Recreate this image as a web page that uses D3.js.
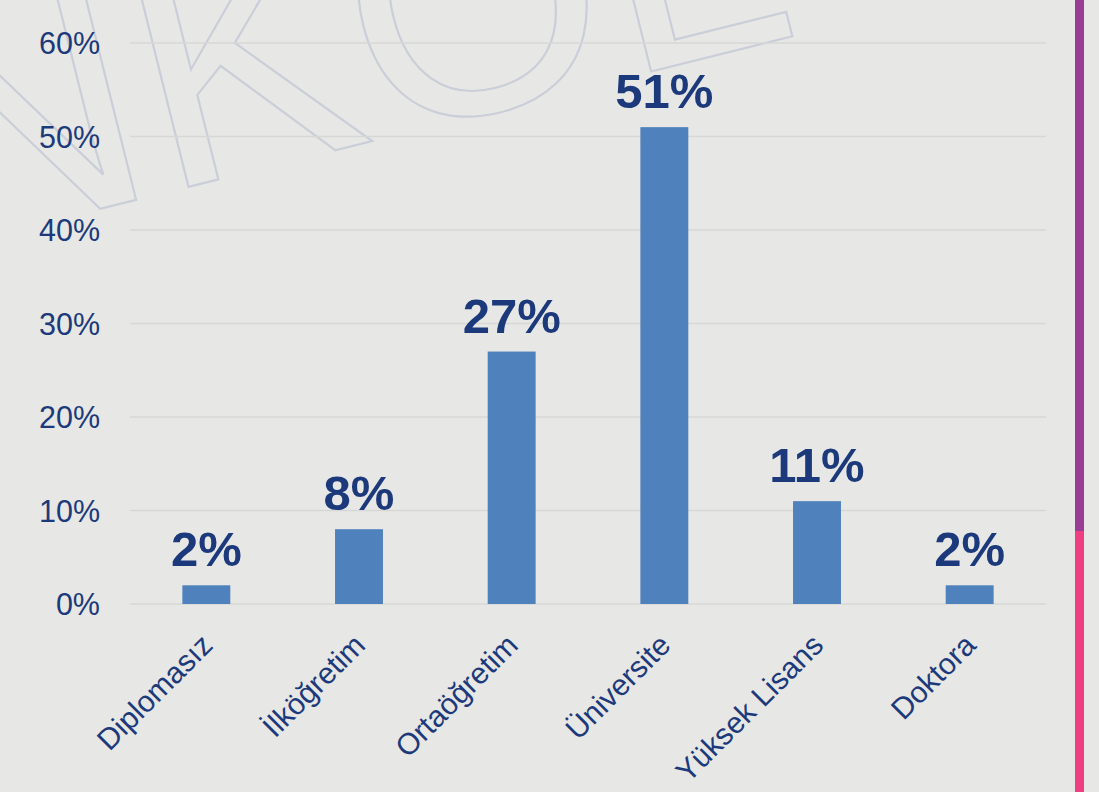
<!DOCTYPE html>
<html><head><meta charset="utf-8">
<script src="https://cdn.jsdelivr.net/npm/d3@7"></script>
<style>html,body{margin:0;padding:0;background:#E7E7E5;overflow:hidden}</style>
</head><body>
<svg id="c" width="1099" height="792"></svg>
<script>
const categories = ["Diplomasız","İlköğretim","Ortaöğretim","Üniversite","Yüksek Lisans","Doktora"];
const values = [2, 8, 27, 51, 11, 2];
const tickValues = [0,10,20,30,40,50,60];
const tickLabels = ["0%","10%","20%","30%","40%","50%","60%"];

(function(){
const svg = d3.select("#c");
const W = 1099, H = 792;
const navy = "#1C3A7B";
svg.append("rect").attr("width",W).attr("height",H).attr("fill","#E7E7E5");

// watermark (decorative, partially off-canvas as in the reference)
svg.append("text")
  .attr("transform","translate(-69,251) rotate(-14)")
  .attr("font-family","Liberation Sans, Arial, sans-serif")
  .attr("font-size",330)
  .attr("fill","none")
  .attr("stroke","#C9CED9")
  .attr("stroke-width",2.2)
  .text("NKOL");

const pl = 130, pr = 1046, pt = 43, pb = 604;
const x = d3.scaleBand().domain(categories).range([pl,pr]).paddingInner(0.686).paddingOuter(0.343);
const y = d3.scaleLinear().domain([0,60]).range([pb,pt]);

// gridlines
svg.append("g").selectAll("line").data(tickValues).join("line")
  .attr("x1",pl).attr("x2",pr)
  .attr("y1",d=>y(d)).attr("y2",d=>y(d))
  .attr("stroke","#D7D7D5").attr("stroke-width",1.5);

// y axis
const yAxis = d3.axisLeft(y).tickValues(tickValues).tickSize(0).tickPadding(0)
  .tickFormat((d,i)=>tickLabels[i]);
const ga = svg.append("g").attr("transform","translate(100,0)").call(yAxis);
ga.select(".domain").remove();
ga.selectAll("text").attr("font-family","Liberation Sans, Arial, sans-serif")
  .attr("font-size",30.5).attr("fill",navy).attr("dy","0.35em");

// bars
svg.append("g").selectAll("rect").data(values).join("rect")
  .attr("x",(d,i)=>x(categories[i]))
  .attr("width",x.bandwidth())
  .attr("y",d=>y(d))
  .attr("height",d=>y(0)-y(d))
  .attr("fill","#4F81BD");

// value labels
svg.append("g").selectAll("text").data(values).join("text")
  .attr("x",(d,i)=>x(categories[i])+x.bandwidth()/2)
  .attr("y",d=>y(d)-19)
  .attr("text-anchor","middle")
  .attr("font-family","Liberation Sans, Arial, sans-serif")
  .attr("font-weight","bold")
  .attr("font-size",49)
  .attr("fill",navy)
  .text(d=>d+"%");

// x labels
svg.append("g").selectAll("text").data(categories).join("text")
  .attr("transform",d=>`translate(${x(d)+x.bandwidth()/2+8},${pb+43}) rotate(-45)`)
  .attr("text-anchor","end")
  .attr("font-family","Liberation Sans, Arial, sans-serif")
  .attr("font-size",30)
  .attr("fill",navy)
  .text(d=>d);

// right accent bar
svg.append("rect").attr("x",1075).attr("y",0).attr("width",9).attr("height",531).attr("fill","#9B3C96");
svg.append("rect").attr("x",1075).attr("y",531).attr("width",9).attr("height",H-531).attr("fill","#F03E82");
})();
</script>
</body></html>
